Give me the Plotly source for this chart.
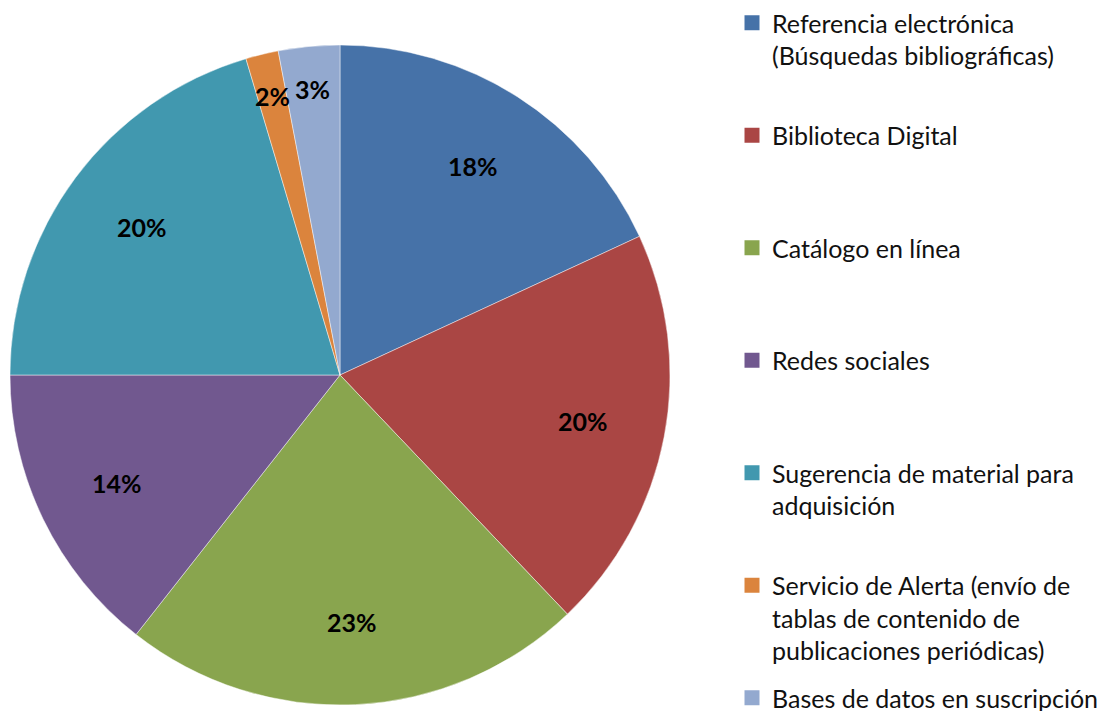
import math
import plotly.graph_objects as go

labels = [
    "Referencia electrónica<br>(Búsquedas bibliográficas)",
    "Biblioteca Digital",
    "Catálogo en línea",
    "Redes sociales",
    "Sugerencia de material para<br>adquisición",
    "Servicio de Alerta (envío de<br>tablas de contenido de<br>publicaciones periódicas)",
    "Bases de datos en suscripción",
]
values = [18.1, 19.8, 22.7, 14.4, 20.4, 1.6, 3.0]
colors = ["#4672A8", "#AA4644", "#89A54E", "#71588F", "#4198AF", "#DB843D", "#93A9CF"]

W, H = 1100, 711
CX, CY, R = 340, 375, 330  # pie centre / radius in pixels (defines domain)

fig = go.Figure()
fig.add_trace(go.Pie(
    labels=labels,
    values=values,
    sort=False,
    direction="clockwise",
    rotation=0,
    marker=dict(colors=colors, line=dict(color="rgba(255,255,255,0.45)", width=1)),
    textinfo="none",
    showlegend=False,
    hoverinfo="label+percent",
    domain=dict(x=[(CX - R) / W, (CX + R) / W], y=[1 - (CY + R) / H, 1 - (CY - R) / H]),
))

# percentage labels placed along each slice's mid-angle
total = sum(values)
cum = 0.0
for v in values:
    frac = v / total
    mid = (cum + frac / 2) * 2 * math.pi
    cum += frac
    rf = 0.87 if frac < 0.05 else 0.75
    px = CX + R * rf * math.sin(mid)
    py = CY - R * rf * math.cos(mid)
    fig.add_annotation(
        x=px / W, y=1 - py / H, xref="paper", yref="paper",
        text="<b>%d%%</b>" % round(frac * 100), showarrow=False,
        font=dict(family="Lato", size=25, color="black"),
        xanchor="center", yanchor="middle",
    )

# legend entries (one per slice)
for i, (lab, col) in enumerate(zip(labels, colors)):
    n = lab.count("<br>") + 1
    padded = lab + ("<br> " * (3 - n) if i < len(labels) - 1 else "")
    fig.add_trace(go.Scatter(
        x=[None], y=[None], mode="markers", name=padded,
        legendgroup=str(i),
        marker=dict(symbol="square", size=15, color=col),
        hoverinfo="skip",
    ))

fig.update_layout(
    width=W, height=H,
    margin=dict(l=0, r=0, t=0, b=0, autoexpand=False),
    paper_bgcolor="white", plot_bgcolor="white",
    xaxis=dict(visible=False), yaxis=dict(visible=False),
    legend=dict(
        x=732 / W, y=1.0, xanchor="left", yanchor="top",
        valign="top",
        tracegroupgap=12,
        font=dict(family="Lato", size=25, color="#111111"),
        bgcolor="rgba(0,0,0,0)",
    ),
    font=dict(family="Lato"),
)

fig.write_html("out.html", config={"displayModeBar": False},
               post_script="document.body.style.margin='0px';")
